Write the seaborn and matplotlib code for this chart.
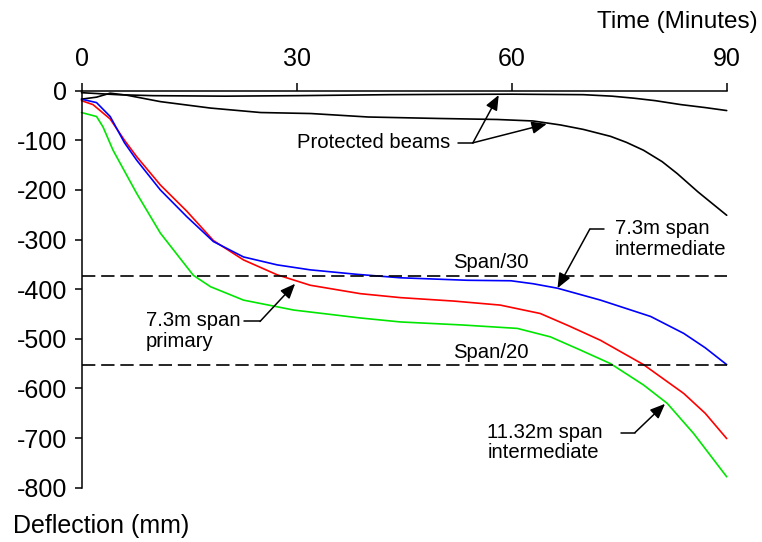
import numpy as np
import pandas as pd
import matplotlib
matplotlib.use('Agg')
import matplotlib.pyplot as plt
import seaborn as sns

# ── data ────────────────────────────────────────────────
prot_a_t = [0, 5, 10, 20, 30, 43, 50, 60, 70, 74, 77, 80, 83.6, 87, 90]
prot_a_d = [-4, -8, -10, -11, -10, -8, -7.5, -7, -8, -11, -15, -20, -28, -34, -40]

prot_b_t = [0, 2.1, 4, 6.3, 11, 18, 25, 32, 40, 50, 58, 63, 66.8, 70, 73.8, 76,
            78.4, 81, 83.1, 86, 90]
prot_b_d = [-17, -13, -5, -9, -22, -35, -44, -46, -53, -56, -58, -61, -69, -78,
            -92, -104, -120, -143, -167, -204, -251]

blue_t = [0, 2.1, 4, 6, 7.7, 11, 14.7, 18.4, 22.6, 27.3, 31.9, 38.4, 44.5, 53.8,
          59.9, 63, 66.4, 72.4, 79.4, 84, 87, 90]
blue_d = [-17, -24, -52, -105, -140, -200, -254, -304, -335, -351, -361, -370,
          -377, -382, -383, -389, -398, -422, -455, -489, -518, -552]

red_t = [0, 1.6, 4, 6, 7.7, 11, 14.7, 18.4, 22.6, 27.3, 31.9, 38.9, 44.5, 52,
         58.4, 64, 68, 72.4, 78.4, 84, 87, 90]
red_d = [-20, -28, -57, -100, -133, -190, -243, -302, -341, -371, -392, -409,
         -417, -424, -432, -449, -474, -503, -552, -610, -650, -701]

green_t = [0, 2.1, 3, 4.4, 7.7, 11, 15.6, 18, 22.6, 29.6, 38.9, 44.5, 53,
           60.8, 65.4, 69.5, 73.8, 78.4, 81.7, 85.4, 90]
green_d = [-44, -52, -73, -120, -207, -287, -372, -395, -422, -442, -458, -466,
           -472, -479, -496, -522, -550, -593, -630, -691, -778]

span30 = -373
span20 = -553

x_ticks = [0, 30, 60, 90]
y_ticks = [0, -100, -200, -300, -400, -500, -600, -700, -800]

# ── style ───────────────────────────────────────────────
sns.set_style('white')
plt.rcParams['font.family'] = ['Liberation Sans', 'DejaVu Sans']
plt.rcParams['axes.unicode_minus'] = False
plt.rcParams['text.color'] = 'black'
plt.rcParams['xtick.color'] = 'black'
plt.rcParams['ytick.color'] = 'black'

fig = plt.figure(figsize=(7.62, 5.42), dpi=100)
ax = fig.add_axes([0.10696, 0.10018, 0.84671, 0.73247])

lw = 1.2
series = [
    (prot_a_t, prot_a_d, 'black'),
    (prot_b_t, prot_b_d, 'black'),
    (green_t, green_d, '#00e600'),
    (red_t, red_d, '#ff0000'),
    (blue_t, blue_d, '#0000ff'),
]
for t, d, c in series:
    sns.lineplot(x=t, y=d, color=c, lw=lw, sort=False, ax=ax, clip_on=False)

# span limit lines
for lvl in (span30, span20):
    ax.plot([0, 90], [lvl, lvl], color='black', lw=1.2, dashes=(8, 3.5),
            clip_on=False)

ax.set_xlim(0, 90)
ax.set_ylim(-800, 0)
ax.set_xticks(x_ticks)
ax.set_yticks(y_ticks)
ax.xaxis.tick_top()
ax.tick_params(axis='x', direction='out', length=6, width=1.1, pad=8,
               labelsize=18, top=True, bottom=False, colors='black')
ax.tick_params(axis='y', direction='out', length=5.3, width=1.1, pad=5,
               labelsize=18, left=True, colors='black')
for s in ('right', 'bottom'):
    ax.spines[s].set_visible(False)
for s in ('top', 'left'):
    ax.spines[s].set_linewidth(1.1)
    ax.spines[s].set_color('black')

fig.text(758 / 762, 1 - 22 / 542, 'Time (Minutes)', ha='right', va='center',
         fontsize=17.5, color='black')
fig.text(12.7 / 762, 1 - 526 / 542, 'Deflection (mm)', ha='left', va='center',
         fontsize=18, color='black')

# ── annotations ─────────────────────────────────────────
fs = 14.6
arrow = dict(arrowstyle='-|>,head_length=0.6,head_width=0.25', color='black',
             lw=1.1, mutation_scale=15, shrinkA=0, shrinkB=0)


def callout(elbow_from, elbow, tips):
    ax.plot([elbow_from[0], elbow[0]], [elbow_from[1], elbow[1]],
            color='black', lw=1.1, clip_on=False)
    for tip in tips:
        ax.annotate('', xy=tip, xytext=elbow, arrowprops=arrow,
                    annotation_clip=False)


ax.text(51.4, -105, 'Protected beams', ha='right', va='center', fontsize=fs)
callout((52.5, -105), (54.6, -105), [(58.2, -8.7), (64.9, -67)])

ax.text(74.4, -299, '7.3m span\nintermediate', ha='left', va='center',
        fontsize=fs, linespacing=1.1)
callout((72.9, -279), (70.9, -279), [(66.4, -398)])

ax.text(9.0, -484, '7.3m span\nprimary', ha='left', va='center',
        fontsize=fs, linespacing=1.1)
callout((22.7, -465), (24.9, -465), [(29.8, -389)])

ax.text(56.6, -709, '11.32m span\nintermediate', ha='left', va='center',
        fontsize=fs, linespacing=1.1)
callout((75.2, -689), (77.2, -689), [(81.4, -631)])

ax.text(51.8, -347, 'Span/30', ha='left', va='center', fontsize=fs)
ax.text(51.8, -528, 'Span/20', ha='left', va='center', fontsize=fs)

fig.savefig('out.png', dpi=100)
